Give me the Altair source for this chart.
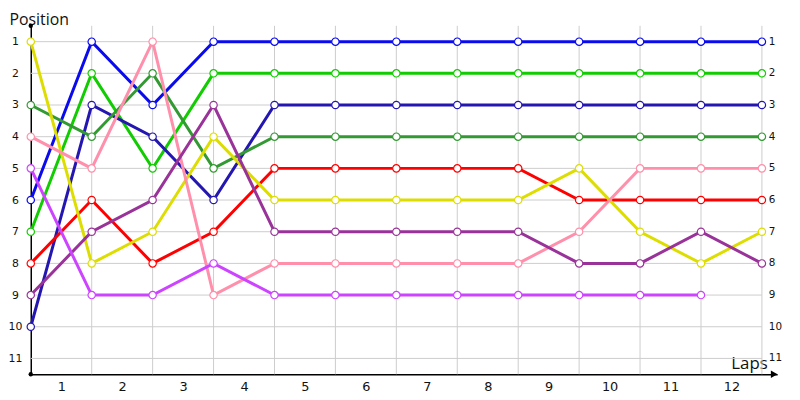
import altair as alt
import pandas as pd

laps = list(range(13))
series_names = ["blue", "lime", "navy", "dkgreen", "red", "yellow", "pink", "purple", "violet"]
series_colors = ["#0A0AEE", "#11CC00", "#2416B0", "#339933", "#FF0000",
                 "#DDDD00", "#FF8FAA", "#993399", "#CC44FF"]
pos_blue = [6, 1, 3, 1, 1, 1, 1, 1, 1, 1, 1, 1, 1]
pos_lime = [7, 2, 5, 2, 2, 2, 2, 2, 2, 2, 2, 2, 2]
pos_navy = [10, 3, 4, 6, 3, 3, 3, 3, 3, 3, 3, 3, 3]
pos_dkgreen = [3, 4, 2, 5, 4, 4, 4, 4, 4, 4, 4, 4, 4]
pos_red = [8, 6, 8, 7, 5, 5, 5, 5, 5, 6, 6, 6, 6]
pos_yellow = [1, 8, 7, 4, 6, 6, 6, 6, 6, 5, 7, 8, 7]
pos_pink = [4, 5, 1, 9, 8, 8, 8, 8, 8, 7, 5, 5, 5]
pos_purple = [9, 7, 6, 3, 7, 7, 7, 7, 7, 8, 8, 7, 8]
pos_violet = [5, 9, 9, 8, 9, 9, 9, 9, 9, 9, 9, 9]

lap_labels = [str(i) for i in range(1, 13)]
y_ticks = list(range(1, 12))

all_pos = [pos_blue, pos_lime, pos_navy, pos_dkgreen, pos_red,
           pos_yellow, pos_pink, pos_purple, pos_violet]
rows = []
for i, (name, vals) in enumerate(zip(series_names, all_pos)):
    for lap, v in zip(laps, vals):
        rows.append({"s": f"{i:02d}_{name}", "lap": lap, "pos": v})
df = pd.DataFrame(rows)
domain_keys = [f"{i:02d}_{n}" for i, n in enumerate(series_names)]

W, H = 754, 352
x_scale = alt.Scale(domain=[0, 12.25], nice=False, zero=False)
y_scale = alt.Scale(domain=[0.5, 11.5], reverse=True, nice=False, zero=False)
color = alt.Color("s:N", scale=alt.Scale(domain=domain_keys, range=series_colors), legend=None)

x_axis = alt.Axis(values=[i + 0.5 for i in range(12)],
                  labelExpr="format(datum.value + 0.5, 'd')",
                  ticks=False, grid=False, domainColor="black", domainWidth=1.5,
                  labelFontSize=13, labelFont="DejaVu Sans", labelColor="#111",
                  labelPadding=6, title="Laps", titleX=744, titleY=-6,
                  titleAlign="right", titleBaseline="alphabetic",
                  titleFontSize=17, titleFontWeight="normal", titleFont="Open Sans",
                  titleColor="#111")
y_axis = alt.Axis(values=y_ticks, ticks=False, grid=False, domainColor="black",
                  domainWidth=1.5, labelAlign="center", labelPadding=16,
                  labelFontSize=11, labelFont="DejaVu Sans", labelColor="#111",
                  title="Position", titleAngle=0, titleX=-22, titleY=-1,
                  titleAlign="left", titleBaseline="alphabetic", titleFontSize=16,
                  titleFontWeight="normal", titleFont="Open Sans", titleColor="#111")

vgrid = pd.DataFrame({"lap": laps[1:], "y0": 0.5, "y1": 11.5})
hgrid = pd.DataFrame({"pos": y_ticks, "x0": 0, "x1": 12})

grid_v = alt.Chart(vgrid).mark_rule(color="#CCCCCC", strokeWidth=1).encode(
    x=alt.X("lap:Q", scale=x_scale, axis=x_axis),
    y=alt.Y("y0:Q", scale=y_scale, axis=y_axis),
    y2="y1:Q",
)

grid_h = alt.Chart(hgrid).mark_rule(color="#CCCCCC", strokeWidth=1).encode(
    x=alt.X("x0:Q", scale=x_scale, axis=x_axis),
    x2="x1:Q",
    y=alt.Y("pos:Q", scale=y_scale, axis=y_axis),
)

lines = alt.Chart(df).mark_line(strokeWidth=3).encode(
    x=alt.X("lap:Q", scale=x_scale, axis=x_axis),
    y=alt.Y("pos:Q", scale=y_scale, axis=y_axis),
    color=color,
    order="lap:Q",
)

points = alt.Chart(df).mark_point(filled=True, fill="white", size=55, strokeWidth=1.2, opacity=1).encode(
    x=alt.X("lap:Q", scale=x_scale, axis=x_axis),
    y=alt.Y("pos:Q", scale=y_scale, axis=y_axis),
    stroke=alt.Stroke("s:N", scale=alt.Scale(domain=domain_keys, range=series_colors), legend=None),
)

right_labels = alt.Chart(pd.DataFrame({"pos": y_ticks, "x": 12})).mark_text(
    align="left", baseline="middle", dx=7, fontSize=10.5, font="DejaVu Sans", color="#111"
).encode(
    x=alt.X("x:Q", scale=x_scale, axis=x_axis),
    y=alt.Y("pos:Q", scale=y_scale, axis=y_axis),
    text=alt.Text("pos:Q"),
)

ends = pd.DataFrame({"x": [0, 0], "y": [0.5, 11.5]})
end_dots = alt.Chart(ends).mark_point(filled=True, color="black", size=20, opacity=1).encode(
    x=alt.X("x:Q", scale=x_scale, axis=x_axis),
    y=alt.Y("y:Q", scale=y_scale, axis=y_axis),
)
arrow = alt.Chart(pd.DataFrame({"x": [12.25], "y": [11.5]})).mark_point(
    filled=True, color="black", size=60, opacity=1, shape="triangle-right", xOffset=-3
).encode(
    x=alt.X("x:Q", scale=x_scale, axis=x_axis),
    y=alt.Y("y:Q", scale=y_scale, axis=y_axis),
)

chart = alt.layer(grid_v, grid_h, lines, points, right_labels, end_dots, arrow).properties(
    width=W, height=H,
    autosize=alt.AutoSizeParams(type="none"),
    padding={"left": 23, "top": 16, "right": 15, "bottom": 24},
    background="white",
).configure_view(stroke=None)

chart.save("out.html", embed_options={"renderer": "svg", "actions": False})
